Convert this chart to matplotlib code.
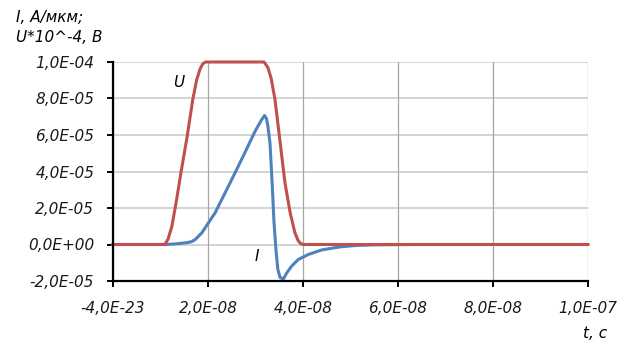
import matplotlib
matplotlib.use("Agg")
import matplotlib.pyplot as plt

# --- data (time in ns, values in units of 1e-5) ---
t_u_ns = [0, 10.9, 11.6, 12.4, 13.4, 14.3, 15.6, 16.8, 17.6, 18.3, 18.9, 19.5,
          31.8, 32.6, 33.3, 34.1, 35.2, 36.2, 37.3, 38.3, 39.0, 39.5, 40.0, 100]
u_vals = [0, 0, 0.3, 1.0, 2.47, 3.93, 5.9, 7.95, 9.0, 9.6, 9.9, 10.0,
          10.0, 9.7, 9.1, 7.95, 5.57, 3.38, 1.74, 0.64, 0.2, 0.05, 0, 0]

t_i_ns = [0, 10.9, 13.0, 15.5, 16.5, 17.3, 18.7, 20.1, 21.5, 23.6, 25.7, 27.8,
          29.9, 31.2, 31.9, 32.3, 32.6, 33.05, 33.5, 33.9, 34.3, 34.7, 35.2,
          35.9, 36.6, 37.6, 39.0, 41.1, 43.9, 47.8, 51.3, 55.0, 63.0]
i_vals = [0, 0, 0.03, 0.1, 0.15, 0.27, 0.64, 1.19, 1.74, 2.83, 3.93, 5.05,
          6.2, 6.8, 7.07, 6.9, 6.5, 5.57, 3.38, 1.19, -0.27, -1.37, -1.82,
          -1.88, -1.55, -1.19, -0.82, -0.55, -0.3, -0.13, -0.05, -0.02, 0.0]

x_ticks = [0, 2e-8, 4e-8, 6e-8, 8e-8, 1e-7]
x_tick_labels = ["-4,0E-23", "2,0E-08", "4,0E-08", "6,0E-08", "8,0E-08", "1,0E-07"]
y_ticks = [-2e-5, 0, 2e-5, 4e-5, 6e-5, 8e-5, 1e-4]
y_tick_labels = ["-2,0E-05", "0,0E+00", "2,0E-05", "4,0E-05", "6,0E-05", "8,0E-05", "1,0E-04"]

t_u = [v * 1e-9 for v in t_u_ns]
u = [v * 1e-5 for v in u_vals]
t_i = [v * 1e-9 for v in t_i_ns]
i_ = [v * 1e-5 for v in i_vals]

red = "#C0504D"
blue = "#4F81BD"
fs = 11

fig = plt.figure(figsize=(6.38, 3.42), dpi=100)
ax = fig.add_axes([113 / 638, 61 / 342, 475 / 638, 219 / 342])

for y in y_ticks:
    ax.axhline(y, color="#D4D4D4", lw=1.4, zorder=0)
for x in x_ticks:
    ax.axvline(x, color="#A6A6A6", lw=0.9, zorder=0)

ax.plot(t_i, i_, color=blue, lw=2.2, solid_joinstyle="round", clip_on=False, zorder=3)
ax.plot(t_u, u, color=red, lw=2.2, solid_joinstyle="round", clip_on=False, zorder=4)

ax.set_xlim(0, 1e-7)
ax.set_ylim(-2e-5, 1e-4)
ax.set_xticks(x_ticks)
ax.set_xticklabels(x_tick_labels)
ax.set_yticks(y_ticks)
ax.set_yticklabels(y_tick_labels)

for s in ["top", "right"]:
    ax.spines[s].set_visible(False)
for s in ["left", "bottom"]:
    ax.spines[s].set_linewidth(1.6)
    ax.spines[s].set_color("black")
    ax.spines[s].set_zorder(5)

ax.tick_params(axis="x", direction="out", length=4.5, width=1.4, pad=10)
ax.tick_params(axis="y", direction="out", length=4.5, width=1.4, pad=9)
for lab in ax.get_xticklabels() + ax.get_yticklabels():
    lab.set_fontstyle("italic")
    lab.set_fontsize(fs)
    lab.set_color("#1a1a1a")

ax.text(13.9e-9, 8.88e-5, "U", fontsize=fs, style="italic", ha="center", va="center")
ax.text(30.3e-9, -0.66e-5, "I", fontsize=fs, style="italic", ha="center", va="center")

fig.text(16 / 638, 1 - 17 / 342, "I, A/мкм;", fontsize=fs, style="italic", ha="left", va="center")
fig.text(16 / 638, 1 - 37 / 342, "U*10^-4, В", fontsize=fs, style="italic", ha="left", va="center")
fig.text(595 / 638, 1 - 333 / 342, "t, с", fontsize=fs, style="italic", ha="center", va="center")

fig.savefig("out.png", dpi=100)
